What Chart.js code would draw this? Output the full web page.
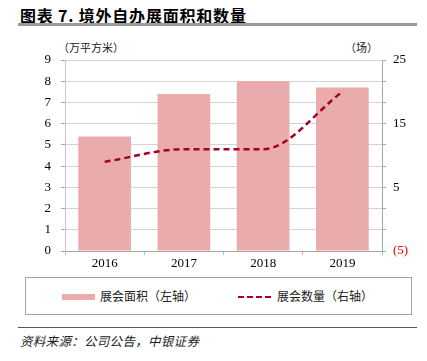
<!DOCTYPE html>
<html>
<head>
<meta charset="utf-8">
<script src="https://cdn.jsdelivr.net/npm/chart.js@4"></script>
<style>
  body { margin: 0; width: 427px; height: 361px; background: #fff; position: relative; overflow: hidden; }
  .cjk { font-family: "Noto Sans CJK SC", sans-serif; position: absolute; white-space: nowrap; }
  #title { left: 20px; top: 3px; font-size: 16px; font-weight: bold; color: #000; letter-spacing: 0.8px; }
  #titleLine { position: absolute; left: 18px; top: 23px; width: 399px; height: 3px; background: #9a9a9a; }
  #unitL { left: 58px; top: 39px; font-size: 11px; color: #222; }
  #unitR { left: 345px; top: 39px; font-size: 11px; color: #222; }
  #chartBox { position: absolute; left: 0; top: 0; width: 427px; height: 276px; }
  #legend { position: absolute; left: 25px; top: 277px; width: 387px; height: 38px; border: 1px solid #a6a6a6; box-sizing: border-box; }
  .sw { position: absolute; }
  #footLine { position: absolute; left: 18px; top: 327px; width: 399px; height: 1px; background: #555; }
  #source { left: 20px; top: 331px; font-size: 12.5px; font-style: italic; color: #222; letter-spacing: 0.3px; }
</style>
</head>
<body>
<div id="title" class="cjk">图表 7. 境外自办展面积和数量</div>
<div id="titleLine"></div>
<div id="unitL" class="cjk">（万平方米）</div>
<div id="unitR" class="cjk">（场）</div>
<div id="chartBox"><canvas id="myChart"></canvas></div>
<div id="legend">
  <div class="sw" style="left:36px;top:16px;width:33px;height:6px;background:#E9ABAB;"></div>
  <div class="cjk" style="left:74px;top:9px;font-size:12px;color:#222;">展会面积（左轴）</div>
  <div class="sw" style="left:212px;top:18px;width:33px;height:0;border-top:2.5px dashed #A50021;"></div>
  <div class="cjk" style="left:251px;top:9px;font-size:12px;color:#222;">展会数量（右轴）</div>
</div>
<div id="footLine"></div>
<div id="source" class="cjk">资料来源：公司公告，中银证券</div>

<script>
// Data for the chart
const years = ["2016", "2017", "2018", "2019"];
const areaValues = [5.4, 7.4, 8.0, 7.7];   // 万平方米, left axis
const countValues = [9, 11, 11, 20];       // 场, right axis
const rightTickLabels = { "25": "25", "15": "15", "5": "5", "-5": "(5)" };

const serif = "'Liberation Serif', 'Times New Roman', serif";

const config = {
  data: {
    labels: years,
    datasets: [
      {
        type: "line",
        label: "展会数量（右轴）",
        data: countValues,
        yAxisID: "y1",
        borderColor: "#A50021",
        borderWidth: 2.5,
        borderDash: [6, 4],
        cubicInterpolationMode: "monotone",
        pointRadius: 0,
        fill: false,
        order: 0,
      },
      {
        type: "bar",
        label: "展会面积（左轴）",
        data: areaValues,
        yAxisID: "y",
        backgroundColor: "#E9ABAB",
        categoryPercentage: 1,
        barPercentage: 0.665,
        order: 1,
      },
    ],
  },
  options: {
    responsive: true,
    maintainAspectRatio: false,
    animation: false,
    layout: { padding: { top: 60, left: 0, right: 0, bottom: 0 } },
    plugins: {
      legend: { display: false },
      tooltip: { enabled: false },
    },
    scales: {
      x: {
        grid: { drawOnChartArea: false, drawTicks: true, tickLength: 4, color: "#bdbdbd", offset: true },
        border: { color: "#a6a6a6" },
        ticks: { color: "#000", font: { family: serif, size: 13 }, padding: 1 },
        afterFit: (s) => { s.height = 25; },
      },
      y: {
        position: "left",
        min: 0,
        max: 9,
        ticks: { stepSize: 1, color: "#000", font: { family: serif, size: 13 }, padding: 10 },
        grid: { color: "#d4d4d4", tickLength: 4, tickColor: "#a6a6a6", borderDash: [2, 1] },
        border: { color: "#c8c8c8" },
        afterFit: (s) => { s.width = 65; },
      },
      y1: {
        position: "right",
        min: -5,
        max: 25,
        ticks: {
          stepSize: 10 / 3,
          font: { family: serif, size: 13 },
          padding: 7,
          color: (ctx) => (ctx.tick && ctx.tick.value < -4.9 ? "#ff0000" : "#000"),
          callback: (v) => {
            const r = Math.round(v);
            if (Math.abs(v - r) > 0.01) return "";
            return rightTickLabels[String(r)] || "";
          },
        },
        grid: { drawOnChartArea: false, tickLength: 4, color: "#a6a6a6" },
        border: { color: "#a6a6a6" },
        afterFit: (s) => { s.width = 45; },
      },
    },
  },
};

const myChart = new Chart(document.getElementById("myChart"), config);
</script>
</body>
</html>
